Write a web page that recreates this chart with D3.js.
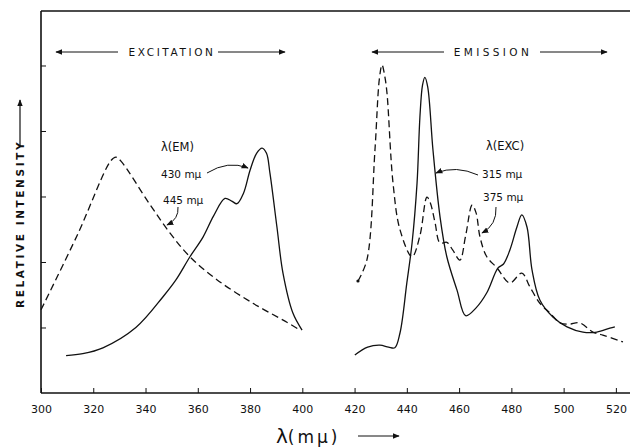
<!DOCTYPE html>
<html><head><meta charset="utf-8">
<script src="https://cdn.jsdelivr.net/npm/d3@7"></script>
<style>
html,body{margin:0;padding:0;background:#fff;}
svg{display:block;font-family:"DejaVu Sans",sans-serif;}
</style></head><body>
<svg id="c" width="630" height="447"></svg>
<script>
// ---- data (wavelength in mμ, relative intensity in tick units) ----
const xTicks = [300,320,340,360,380,400,420,440,460,480,500,520];
const yTicks = [1,2,3,4,5];

// Excitation, λ(EM) = 445 mμ (dashed)
const exc445X = [300,314,326.8,328.7,330.6,341.3,349.4,357,367.3,381.1,394.1,399.1];
const exc445Y = [1.27,2.42,3.55,3.60,3.54,2.90,2.44,2.08,1.73,1.37,1.08,0.96];
// Excitation, λ(EM) = 430 mμ (solid)
const exc430X = [309.6,316,323.7,336.3,346.7,351.7,357,362,366,370.4,373,375,377.5,380,382.5,384.6,386.3,387.6,390.3,392.6,396.4,399.9];
const exc430Y = [0.57,0.60,0.69,1.00,1.47,1.73,2.08,2.38,2.70,2.97,2.93,2.89,3.05,3.40,3.66,3.74,3.66,3.36,2.53,1.83,1.22,0.96];
// Emission, λ(EXC) = 375 mμ (dashed)
const em375X = [421.3,424.7,427.8,429.5,430.5,431.5,432.4,434.7,437.4,442,445,447.7,449,450.8,452.7,455.3,457.6,460.3,462.5,465,466.5,468,470.6,474.5,479.4,484,487.1,490.9,494.8,498.6,502,506.2,511.2,515,522.7];
const em375Y = [1.71,2.03,3.71,4.80,5.01,4.85,4.58,3.21,2.49,2.08,2.40,2.99,2.90,2.60,2.29,2.30,2.18,2.03,2.40,2.87,2.75,2.38,2.08,1.91,1.68,1.83,1.62,1.37,1.22,1.07,1.05,1.07,0.93,0.885,0.78];
// Emission, λ(EXC) = 315 mμ (solid)
const em315X = [420.1,425,429.7,433,435.4,437.4,440,442,443.9,445,446,446.9,448,450,452.7,455.3,459.2,462.5,466.5,470.6,474.9,477,479.4,482.1,484,486,487.9,490.9,495.9,501.3,507.4,512.7,517.7,519.6];
const em315Y = [0.58,0.70,0.73,0.70,0.69,0.92,1.68,2.29,3.20,4.21,4.70,4.82,4.67,3.71,2.69,2.08,1.57,1.18,1.30,1.53,1.91,1.97,2.18,2.53,2.72,2.53,1.88,1.42,1.16,1.01,0.93,0.93,0.99,1.01];

// ---- chart ----
const svg = d3.select("#c");
const x = d3.scaleLinear().domain([300, 525.4]).range([41, 630]);
const y = d3.scaleLinear().domain([0, 5.832]).range([393, 11]);
const ink = "#111";

const defs = svg.append("defs");
defs.append("marker").attr("id","ah").attr("viewBox","0 0 10 10").attr("refX",9).attr("refY",5)
  .attr("markerWidth",7).attr("markerHeight",7).attr("markerUnits","userSpaceOnUse").attr("orient","auto")
  .append("path").attr("d","M0,1 L10,5 L0,9 Z").attr("fill",ink);

// axes
const xAxis = d3.axisBottom(x).tickValues(xTicks).tickSize(-5).tickPadding(12).tickFormat(d3.format("d"));
const gx = svg.append("g").attr("transform","translate(0,393)").call(xAxis);
gx.select(".domain").remove();
gx.selectAll(".tick line").attr("stroke",ink).attr("stroke-width",1);
gx.selectAll(".tick text").attr("fill",ink).attr("font-size",11).attr("font-family","DejaVu Sans");
gx.append("line").attr("x1",41).attr("x2",630).attr("y1",0).attr("y2",0).attr("stroke",ink).attr("stroke-width",1.6);

const yAxis = d3.axisLeft(y).tickValues(yTicks).tickSize(-5).tickFormat("");
const gy = svg.append("g").attr("transform","translate(41,0)").call(yAxis);
gy.select(".domain").remove();
gy.selectAll(".tick line").attr("stroke",ink).attr("stroke-width",1);
gy.append("line").attr("x1",0).attr("x2",0).attr("y1",11).attr("y2",393).attr("stroke",ink).attr("stroke-width",1.6);
svg.append("line").attr("x1",41).attr("x2",630).attr("y1",11).attr("y2",11).attr("stroke",ink).attr("stroke-width",1.4);

// curves
const line = d3.line().x(d=>x(d[0])).y(d=>y(d[1])).curve(d3.curveCatmullRom.alpha(0.5));
function draw(xs, ys, dashed){
  svg.append("path").datum(xs.map((v,i)=>[v, ys[i]])).attr("d", line)
    .attr("fill","none").attr("stroke",ink).attr("stroke-width",1.3)
    .attr("stroke-dasharray", dashed ? "7,4" : null);
}
draw(exc445X, exc445Y, true);
draw(exc430X, exc430Y, false);
draw(em375X, em375Y, true);
draw(em315X, em315Y, false);
svg.append("circle").attr("cx",x(em375X[0])).attr("cy",y(em375Y[0])).attr("r",1.6).attr("fill",ink);

// header labels with arrows
function header(txt, cx, l1, l2, r1, r2, ls){
  svg.append("text").attr("x",cx).attr("y",56).attr("text-anchor","middle")
    .attr("font-size",10.5).attr("letter-spacing",ls).attr("fill",ink).text(txt);
  svg.append("line").attr("x1",l2).attr("x2",l1).attr("y1",52).attr("y2",52).attr("stroke",ink).attr("stroke-width",1).attr("marker-end","url(#ah)");
  svg.append("line").attr("x1",r1).attr("x2",r2).attr("y1",52).attr("y2",52).attr("stroke",ink).attr("stroke-width",1).attr("marker-end","url(#ah)");
}
header("EXCITATION", 172, 56, 118, 218, 285, 2.6);
header("EMISSION", 493, 372, 444, 540, 607, 3.4);

// annotations
function label(t, x0, y0, size){
  svg.append("text").attr("x",x0).attr("y",y0).attr("font-size",size||10.5).attr("fill",ink).text(t);
}
label("λ(EM)", 161, 151, 11.5);
label("430 mμ", 161, 178);
label("445 mμ", 163, 204);
label("λ(EXC)", 486, 150, 11.5);
label("315 mμ", 482, 178);
label("375 mμ", 483, 201);

function curveArrow(d){
  svg.append("path").attr("d",d).attr("fill","none").attr("stroke",ink).attr("stroke-width",1).attr("marker-end","url(#ah)");
}
curveArrow("M207,173 Q228,160 248,168");
curveArrow("M178,207 Q179,219 167,225");
curveArrow("M478,175 Q456,165 436,173");
curveArrow("M496,207 Q497,225 482,233");

// axis titles
const yl = svg.append("text").attr("transform","translate(24,308) rotate(-90)")
  .attr("font-size",10.5).attr("font-weight","bold").attr("letter-spacing",2.6).attr("fill",ink);
yl.text("RELATIVE   INTENSITY");
svg.append("line").attr("x1",20).attr("x2",20).attr("y1",147).attr("y2",100).attr("stroke",ink).attr("stroke-width",1.2).attr("marker-end","url(#ah)");

const xl = svg.append("text").attr("x",276).attr("y",443).attr("fill",ink);
xl.append("tspan").attr("font-size",20).text("λ");
xl.append("tspan").attr("font-size",17).attr("letter-spacing",3).text("(mμ)");
svg.append("line").attr("x1",358).attr("x2",399).attr("y1",436).attr("y2",436).attr("stroke",ink).attr("stroke-width",1).attr("marker-end","url(#ah)");
</script>
</body></html>
